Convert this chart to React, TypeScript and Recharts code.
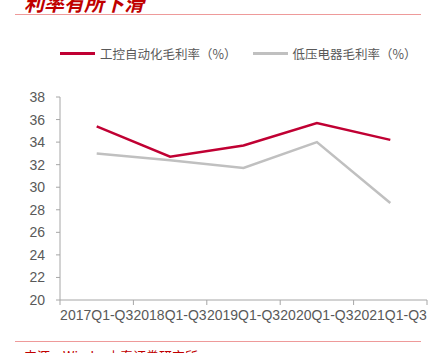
import React from "react";
import { LineChart, Line, XAxis, YAxis } from "recharts";

const categories = ["2017Q1-Q3", "2018Q1-Q3", "2019Q1-Q3", "2020Q1-Q3", "2021Q1-Q3"];
const automationMargin = [35.4, 32.7, 33.7, 35.7, 34.2];
const lowVoltageMargin = [33.0, 32.4, 31.7, 34.0, 28.6];
const yTicks = [20, 22, 24, 26, 28, 30, 32, 34, 36, 38];
const seriesNames = ["工控自动化毛利率（%）", "低压电器毛利率（%）"];

const data = categories.map((c, i) => ({
  name: c,
  a: automationMargin[i],
  b: lowVoltageMargin[i],
}));

const RED = "#c00033";
const GRAY = "#c0c0c0";
const TEXT = "#595959";
const AXIS = "#a6a6a6";
const FONT = "'Liberation Sans', Arial, sans-serif";

const XTick = (props: any) => {
  const { x, y, payload, index } = props;
  const half = payload && payload.offset ? payload.offset : 36.7;
  return (
    <g>
      <line x1={x - half} y1={y - 8} x2={x - half} y2={y - 3} stroke={AXIS} />
      {index === categories.length - 1 && (
        <line x1={x + half} y1={y - 8} x2={x + half} y2={y - 3} stroke={AXIS} />
      )}
      <text x={x} y={y + 12} textAnchor="middle" fill={TEXT} fontSize={14} fontFamily={FONT}>
        {payload.value}
      </text>
    </g>
  );
};

export default function App() {
  return (
    <div style={{ position: "absolute", left: 0, top: 0, width: 429, height: 353, overflow: "hidden", background: "#fff" }}>
      <div
        style={{
          position: "absolute",
          left: 24,
          top: -12,
          color: "#c00000",
          fontSize: 20,
          fontStyle: "italic",
          fontWeight: "bold",
          fontFamily: "'Noto Sans CJK SC', sans-serif",
          whiteSpace: "nowrap",
        }}
      >
        利率有所下滑
      </div>
      <div style={{ position: "absolute", left: 15, top: 14, width: 406, height: 1, background: "#ee9a9a" }} />
      <div
        style={{
          position: "absolute",
          top: 44,
          left: 60,
          display: "flex",
          alignItems: "center",
          fontFamily: "'Noto Sans CJK SC', sans-serif",
          fontSize: 12.5,
          color: TEXT,
          whiteSpace: "nowrap",
        }}
      >
        <span style={{ display: "inline-block", width: 35, height: 3, background: RED, marginRight: 5 }} />
        <span>{seriesNames[0]}</span>
        <span style={{ display: "inline-block", width: 35, height: 3, background: GRAY, marginLeft: 16, marginRight: 5 }} />
        <span>{seriesNames[1]}</span>
      </div>
      <div style={{ position: "absolute", left: 0, top: 0 }}>
        <LineChart width={429} height={353} data={data} margin={{ top: 97, right: 2, left: 0, bottom: 23 }}>
          <XAxis
            dataKey="name"
            scale="band"
            axisLine={{ stroke: AXIS }}
            tickLine={false}
            tick={<XTick />}
            interval={0}
            height={30}
          />
          <YAxis
            domain={[20, 38]}
            ticks={yTicks}
            width={60}
            axisLine={{ stroke: AXIS }}
            tickLine={{ stroke: AXIS }}
            tickSize={4}
            tickMargin={11}
            tick={{ fill: TEXT, fontSize: 14, fontFamily: FONT }}
            interval={0}
          />
          <Line type="linear" dataKey="a" stroke={RED} strokeWidth={2.5} dot={false} isAnimationActive={false} />
          <Line type="linear" dataKey="b" stroke={GRAY} strokeWidth={2.5} dot={false} isAnimationActive={false} />
        </LineChart>
      </div>
      <div style={{ position: "absolute", left: 15, top: 341, width: 406, height: 1, background: "#ee9a9a" }} />
      <div
        style={{
          position: "absolute",
          left: 24,
          top: 346,
          color: "#c00000",
          fontSize: 13,
          fontFamily: "'Noto Sans CJK SC', sans-serif",
          whiteSpace: "nowrap",
        }}
      >
        来源：Wind，中泰证券研究所
      </div>
    </div>
  );
}
